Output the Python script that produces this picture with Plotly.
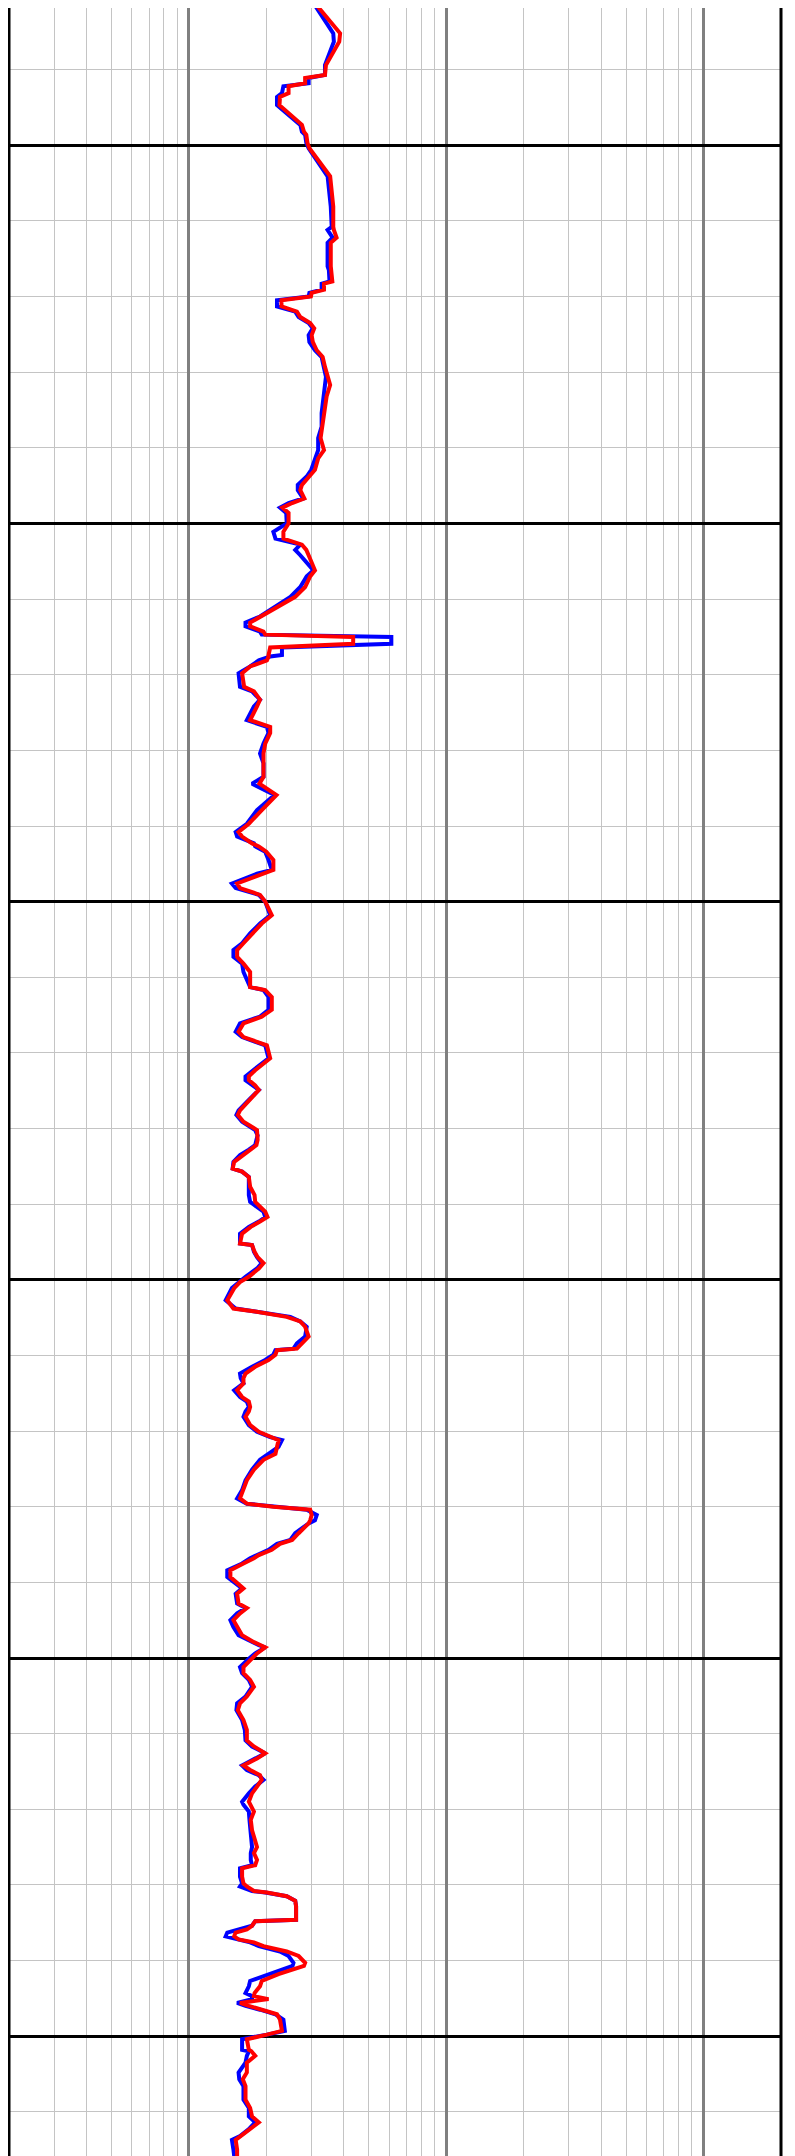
import math
import plotly.graph_objects as go

depth = [
    1031.5, 1035.2, 1036.3, 1039.4, 1040.7, 1041.1, 1041.8, 1042.2, 1043.1, 1043.6,
    1044.7, 1047.3, 1048.2, 1048.6, 1049.7, 1050.4, 1054.1, 1058.1, 1060.8, 1061.2,
    1062.2, 1062.9, 1066.0, 1066.5, 1068.0, 1068.3, 1069.1, 1069.5, 1070.0, 1070.5,
    1071.3, 1072.0, 1072.7, 1073.5, 1074.2, 1075.1, 1076.0, 1077.1, 1078.0, 1079.3,
    1080.6, 1081.7, 1083.2, 1085.4, 1087.2, 1088.7, 1090.3, 1091.4, 1092.9, 1093.8,
    1094.9, 1095.6, 1096.7, 1097.3, 1097.9, 1098.6, 1100.0, 1101.1, 1102.0, 1102.8,
    1103.5, 1104.2, 1106.2, 1107.0, 1108.4, 1109.7, 1110.6, 1111.7, 1112.3, 1113.1,
    1113.6, 1114.3, 1114.7, 1115.0, 1115.9, 1116.4, 1117.4, 1117.6, 1118.1, 1118.9,
    1119.8, 1121.6, 1122.2, 1123.3, 1124.2, 1126.0, 1126.9, 1127.7, 1129.1, 1130.4,
    1131.7, 1133.5, 1134.4, 1135.9, 1137.9, 1139.7, 1140.8, 1141.4, 1142.3, 1142.7,
    1143.4, 1144.5, 1145.8, 1146.3, 1147.6, 1148.2, 1149.1, 1150.0, 1150.7, 1151.8,
    1152.9, 1154.2, 1155.5, 1156.4, 1157.3, 1158.2, 1159.3, 1161.3, 1161.7, 1162.6,
    1164.3, 1165.2, 1166.1, 1167.2, 1167.9, 1169.0, 1170.7, 1172.3, 1173.1, 1173.6,
    1174.3, 1174.9, 1176.2, 1177.6, 1178.2, 1179.1, 1180.2, 1180.9, 1181.5, 1182.2,
    1182.8, 1183.5, 1184.4, 1185.3, 1185.7, 1186.4, 1187.7, 1188.8, 1189.7, 1191.0,
    1191.7, 1192.3, 1193.0, 1193.9, 1195.2, 1195.4, 1196.3, 1197.0, 1197.8, 1198.5,
    1199.6, 1200.3, 1201.1, 1202.7, 1203.8, 1204.2, 1204.9, 1205.5, 1206.2, 1207.5,
    1208.4, 1209.1, 1209.3, 1209.9, 1210.6, 1211.5, 1212.4, 1213.0, 1213.7, 1214.6,
    1215.5, 1216.1, 1216.8, 1217.4, 1218.1, 1219.2, 1220.1, 1220.8, 1221.2, 1222.1,
    1223.0, 1223.8, 1225.1, 1226.5, 1227.8, 1228.9, 1229.6, 1230.0, 1230.4, 1231.1,
    1231.8, 1232.2, 1233.5, 1234.4, 1234.9, 1235.7, 1236.4, 1236.8, 1237.5, 1238.4,
    1239.3, 1240.1, 1240.8, 1241.5, 1242.8, 1243.4, 1244.1, 1245.0, 1245.9, 1247.0,
    1247.9, 1248.3, 1248.6, 1249.4, 1250.1, 1251.2, 1252.0, 1252.9, 1253.8, 1255.1,
    1256.0, 1256.9, 1258.2, 1259.5, 1260.9, 1261.7, 1262.6, 1263.3, 1264.2, 1264.8,
    1265.5, 1266.1, 1267.0, 1267.9, 1269.0, 1269.4, 1270.3, 1271.4, 1272.8, 1273.6,
    1275.0, 1275.8, 1276.7, 1277.4, 1277.8, 1278.9, 1279.8, 1280.2, 1280.8, 1281.0,
    1281.5, 1282.1, 1282.8, 1284.6, 1284.8, 1285.4, 1285.9, 1286.3, 1286.8, 1287.2,
    1287.6, 1288.1, 1288.8, 1289.4, 1290.3, 1290.7, 1291.8, 1292.7, 1293.4, 1294.3,
    1294.7, 1295.1, 1295.6, 1296.0, 1296.5, 1297.1, 1297.8, 1299.3, 1299.8, 1300.4,
    1301.8, 1302.0, 1302.6, 1303.5, 1304.8, 1305.7, 1306.6, 1308.4, 1309.5, 1310.6,
    1311.4, 1312.3, 1313.2, 1313.7, 1315.0, 1317.5,
]

blue_curve = [
    3.09, 3.64, 3.66, 3.38, 3.38, 2.92, 2.92, 2.33, 2.30, 2.20,
    2.20, 2.71, 2.75, 2.83, 2.86, 2.92, 3.46, 3.56, 3.59, 3.46,
    3.62, 3.46, 3.46, 3.50, 3.52, 3.28, 3.28, 2.94, 2.92, 2.20,
    2.20, 2.59, 2.67, 2.92, 3.03, 2.92, 2.94, 3.09, 3.28, 3.35,
    3.41, 3.38, 3.35, 3.28, 3.28, 3.18, 3.18, 3.09, 2.99, 2.87,
    2.65, 2.65, 2.78, 2.44, 2.26, 2.39, 2.40, 2.13, 2.17, 2.71,
    2.59, 2.71, 3.05, 2.87, 2.71, 2.48, 2.26, 2.01, 1.89, 1.66,
    1.66, 1.89, 1.92, 6.12, 6.12, 2.30, 2.30, 2.07, 1.87, 1.73,
    1.56, 1.58, 1.76, 1.89, 1.79, 1.68, 2.01, 2.04, 1.95, 1.89,
    1.95, 1.95, 1.76, 2.15, 1.84, 1.68, 1.52, 1.54, 1.79, 1.81,
    1.98, 2.04, 2.10, 1.84, 1.47, 1.52, 1.87, 1.98, 2.02, 2.07,
    1.89, 1.73, 1.61, 1.49, 1.49, 1.61, 1.63, 1.73, 1.95, 2.04,
    2.04, 1.89, 1.58, 1.52, 1.61, 1.98, 2.04, 1.79, 1.66, 1.66,
    1.76, 1.87, 1.71, 1.56, 1.53, 1.61, 1.81, 1.85, 1.83, 1.81,
    1.71, 1.58, 1.49, 1.48, 1.61, 1.71, 1.71, 1.71, 1.73, 1.95,
    1.98, 1.87, 1.71, 1.58, 1.58, 1.76, 1.79, 1.84, 1.92, 1.84,
    1.66, 1.56, 1.47, 1.39, 1.52, 1.81, 2.48, 2.71, 2.87, 2.83,
    2.63, 2.55, 2.17, 2.13, 1.98, 1.76, 1.58, 1.59, 1.63, 1.50,
    1.58, 1.68, 1.71, 1.66, 1.63, 1.71, 1.84, 2.07, 2.30, 2.23,
    2.04, 1.89, 1.76, 1.66, 1.61, 1.54, 1.68, 2.13, 2.87, 3.14,
    3.09, 2.92, 2.59, 2.48, 2.20, 2.04, 1.84, 1.73, 1.61, 1.41,
    1.41, 1.52, 1.61, 1.52, 1.54, 1.66, 1.54, 1.45, 1.49, 1.56,
    1.76, 1.87, 1.98, 1.81, 1.71, 1.58, 1.61, 1.71, 1.76, 1.66,
    1.54, 1.53, 1.61, 1.65, 1.66, 1.76, 1.98, 1.81, 1.61, 1.68,
    1.87, 1.95, 1.81, 1.71, 1.61, 1.63, 1.71, 1.72, 1.74, 1.74,
    1.76, 1.74, 1.74, 1.76, 1.58, 1.58, 1.61, 1.58, 1.76, 1.98,
    2.40, 2.59, 2.61, 2.61, 1.81, 1.76, 1.56, 1.41, 1.39, 1.54,
    1.73, 1.87, 2.26, 2.44, 2.55, 2.53, 2.07, 1.73, 1.71, 1.66,
    1.76, 1.76, 1.54, 1.66, 1.89, 2.17, 2.33, 2.36, 2.01, 1.61,
    1.61, 1.71, 1.68, 1.66, 1.56, 1.57, 1.63, 1.63, 1.71, 1.71,
    1.81, 1.71, 1.58, 1.47, 1.49, 1.52,
]

red_curve = [
    3.14, 3.87, 3.84, 3.41, 3.38, 2.83, 2.83, 2.44, 2.44, 2.26,
    2.25, 2.75, 2.80, 2.86, 2.89, 2.94, 3.54, 3.64, 3.64, 3.66,
    3.75, 3.56, 3.56, 3.58, 3.61, 3.35, 3.35, 3.00, 2.98, 2.29,
    2.29, 2.63, 2.71, 2.96, 3.07, 3.00, 3.03, 3.14, 3.31, 3.38,
    3.46, 3.54, 3.43, 3.35, 3.31, 3.25, 3.35, 3.18, 3.09, 2.94,
    2.75, 2.71, 2.81, 2.52, 2.31, 2.44, 2.44, 2.33, 2.33, 2.75,
    2.86, 2.92, 3.09, 2.96, 2.83, 2.59, 2.33, 2.04, 1.92, 1.73,
    1.73, 1.95, 1.98, 4.35, 4.35, 2.07, 2.04, 2.04, 2.01, 1.73,
    1.61, 1.64, 1.79, 1.89, 1.84, 1.73, 2.07, 2.07, 1.98, 1.95,
    1.95, 1.95, 1.88, 2.19, 1.92, 1.71, 1.56, 1.61, 1.76, 1.87,
    2.00, 2.13, 2.13, 1.95, 1.54, 1.58, 1.89, 1.98, 2.02, 2.10,
    1.92, 1.76, 1.63, 1.54, 1.54, 1.63, 1.73, 1.73, 1.98, 2.10,
    2.10, 1.92, 1.63, 1.56, 1.63, 2.01, 2.07, 1.81, 1.71, 1.71,
    1.81, 1.87, 1.73, 1.58, 1.55, 1.63, 1.84, 1.85, 1.85, 1.83,
    1.73, 1.61, 1.50, 1.48, 1.61, 1.71, 1.73, 1.80, 1.81, 1.98,
    2.02, 1.89, 1.74, 1.61, 1.58, 1.76, 1.80, 1.85, 1.95, 1.87,
    1.71, 1.58, 1.50, 1.41, 1.49, 1.81, 2.40, 2.71, 2.83, 2.92,
    2.75, 2.63, 2.20, 2.17, 2.04, 1.81, 1.66, 1.63, 1.63, 1.54,
    1.61, 1.71, 1.73, 1.71, 1.66, 1.73, 1.87, 2.07, 2.23, 2.20,
    2.17, 1.95, 1.79, 1.68, 1.63, 1.58, 1.68, 2.13, 2.96, 3.00,
    2.96, 2.92, 2.67, 2.52, 2.26, 2.10, 1.87, 1.79, 1.63, 1.45,
    1.45, 1.54, 1.63, 1.54, 1.56, 1.68, 1.58, 1.49, 1.54, 1.61,
    1.79, 1.89, 1.98, 1.84, 1.76, 1.63, 1.63, 1.73, 1.79, 1.68,
    1.58, 1.55, 1.63, 1.68, 1.68, 1.79, 1.98, 1.84, 1.63, 1.73,
    1.89, 1.92, 1.84, 1.76, 1.71, 1.73, 1.79, 1.74, 1.76, 1.79,
    1.84, 1.79, 1.84, 1.81, 1.61, 1.61, 1.63, 1.68, 1.79, 2.01,
    2.40, 2.59, 2.61, 2.61, 1.81, 1.76, 1.68, 1.52, 1.50, 1.56,
    1.79, 1.95, 2.40, 2.67, 2.83, 2.80, 2.23, 1.92, 1.89, 1.80,
    1.79, 2.04, 1.58, 1.71, 1.92, 2.20, 2.26, 2.30, 2.01, 1.68,
    1.71, 1.75, 1.81, 1.68, 1.68, 1.62, 1.66, 1.66, 1.73, 1.76,
    1.87, 1.73, 1.61, 1.52, 1.54, 1.54,
]

x_range = [0.2, 200]
depth_top = 1031.85
depth_bottom = 1316.9

fig = go.Figure()
fig.add_trace(go.Scatter(x=blue_curve, y=depth, mode="lines",
                         line=dict(color="#0000ff", width=4), showlegend=False))
fig.add_trace(go.Scatter(x=red_curve, y=depth, mode="lines",
                         line=dict(color="#ff0000", width=4), showlegend=False))

fig.update_layout(
    width=795, height=2156,
    margin=dict(l=1, r=22, t=0, b=0),
    paper_bgcolor="white", plot_bgcolor="white",
    showlegend=False,
    xaxis=dict(
        type="log",
        range=[math.log10(x_range[0]), math.log10(x_range[1])],
        showticklabels=False, ticks="",
        showgrid=True, dtick=1, gridcolor="#808080", gridwidth=2.5,
        minor=dict(dtick="D1", showgrid=True, gridcolor="#c4c4c4", gridwidth=1.2, ticks=""),
        showline=False, zeroline=False,
    ),
    yaxis=dict(
        range=[depth_bottom, depth_top],
        showticklabels=False, ticks="",
        showgrid=True, tick0=0, dtick=50, gridcolor="black", gridwidth=3,
        minor=dict(dtick=10, tick0=0, showgrid=True, gridcolor="#c4c4c4", gridwidth=1.2, ticks=""),
        showline=False, zeroline=False,
    ),
    shapes=[
        dict(type="line", xref="paper", yref="paper", x0=0, x1=0, y0=0, y1=1,
             line=dict(color="black", width=3), layer="above"),
        dict(type="line", xref="paper", yref="paper", x0=1, x1=1, y0=0, y1=1,
             line=dict(color="black", width=3), layer="above"),
    ],
)

fig.write_html("out.html")
